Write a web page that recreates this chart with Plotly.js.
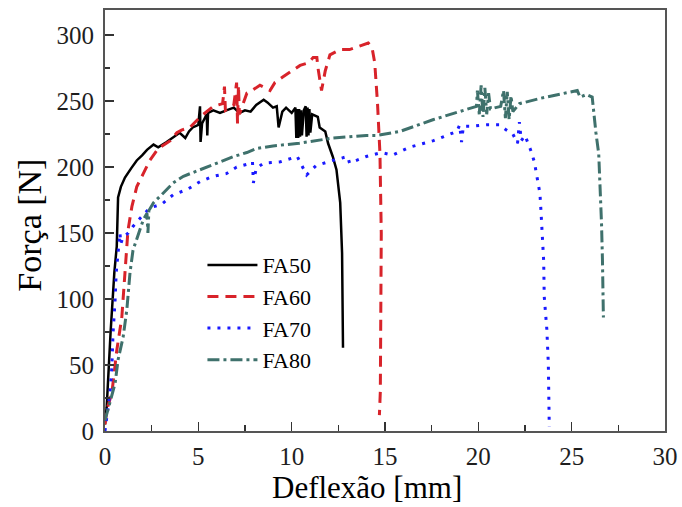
<!DOCTYPE html>
<html>
<head>
<meta charset="utf-8">
<script src="https://cdn.plot.ly/plotly-3.0.1.min.js"></script>
<style>html,body{margin:0;padding:0;background:#fff;}#chart{width:682px;height:507px;}</style>
</head>
<body>
<div id="chart"></div>
<script>
// FA50 (black, solid)
const fa50_x = [0, 0.09, 0.3, 0.5, 0.63, 0.7, 0.85, 1.07, 1.4, 1.7, 2.0, 2.25, 2.6, 2.85, 3.3, 3.7, 4.0, 4.3, 4.5, 4.7, 5.0, 5.09, 5.12, 5.2, 5.45, 5.48, 5.52, 5.8, 6.16, 6.5, 6.9, 7.2, 7.5, 7.8, 8.1, 8.5, 8.7, 9.0, 9.2, 9.3, 9.5, 9.7, 10.0, 10.2, 10.25, 10.3, 10.35, 10.4, 10.45, 10.5, 10.55, 10.65, 10.75, 10.8, 10.85, 10.9, 10.95, 11.0, 11.1, 11.4, 11.5, 11.8, 11.95, 12.2, 12.4, 12.6, 12.7, 12.75];
const fa50_y = [5, 18, 75, 120, 140, 177, 185, 192, 199, 205, 209, 213, 217, 215, 219, 223, 226, 222, 227, 230, 232, 246, 219, 233, 240, 224, 241, 243, 241, 243, 245, 241, 243, 242, 247, 251, 249, 245, 246, 230, 242, 245, 241, 245, 222, 244, 222, 244, 223, 243, 224, 243, 246, 223, 245, 224, 244, 226, 240, 238, 230, 227, 218, 208, 198, 173, 135, 63];

// FA60 (red, dashed)
const fa60_x = [0, 0.1, 0.37, 0.63, 0.9, 1.07, 1.23, 1.44, 1.7, 2.05, 2.4, 2.85, 3.5, 3.85, 4.1, 4.55, 5.1, 5.8, 6.3, 6.4, 6.45, 6.9, 7.05, 7.1, 7.15, 7.2, 7.6, 7.77, 8.3, 8.84, 9.1, 9.5, 10.45, 10.9, 11.15, 11.35, 11.4, 11.6, 11.8, 12.05, 12.6, 13.1, 13.75, 14.1, 14.3, 14.45, 14.6, 14.73, 14.8, 14.78, 14.75, 14.7];
const fa60_y = [5, 16, 29, 61, 86, 124, 152, 170, 185, 195, 205, 214, 220, 226, 228, 230, 238, 246, 248, 261, 243, 247, 264, 233, 262, 240, 256, 257, 262, 258, 264, 268, 277, 279, 283, 283, 276, 258, 273, 285, 289, 289, 292, 294, 291, 279, 248, 210, 150, 80, 30, 12];

// FA70 (blue, dotted)
const fa70_x = [0, 0.05, 0.27, 0.37, 0.43, 0.54, 0.6, 0.7, 0.8, 0.85, 0.97, 1.25, 1.5, 1.87, 2.4, 3.05, 3.65, 4.4, 5.1, 5.8, 6.5, 7.05, 7.6, 7.9, 7.95, 8.1, 8.5, 9.4, 10.3, 10.8, 11.3, 12.2, 13.0, 13.1, 14.0, 14.8, 15.4, 16.3, 17.6, 18.85, 19.0, 19.1, 19.2, 19.7, 20.45, 21.15, 21.5, 21.85, 22.1, 22.2, 22.3, 22.5, 22.8, 23.0, 23.15, 23.3, 23.35, 23.4, 23.45, 23.5, 23.53, 23.67, 23.75, 23.8, 23.8];
const fa70_y = [0, 5, 29, 49, 74, 99, 120, 135, 150, 142, 147, 150, 155, 161, 169, 172, 179, 183, 189, 193, 195, 200, 202, 204, 188, 199, 203, 204, 208, 194, 201, 205, 208, 203, 208, 211, 209, 215, 220, 227, 232, 219, 231, 231, 232, 232, 228, 225, 218, 234, 220, 224, 213, 204, 193, 180, 168, 155, 142, 129, 102, 77, 51, 13, 3];

// FA80 (teal, dash-dot)
const fa80_x = [0, 0.27, 0.54, 0.7, 0.97, 1.17, 1.34, 1.5, 1.7, 2.05, 2.25, 2.3, 2.35, 2.6, 3.1, 3.65, 4.2, 5.1, 6.0, 6.9, 7.6, 8.1, 9.0, 10.4, 12.2, 14.0, 14.6, 15.8, 17.6, 19.0, 19.9, 19.95, 20.05, 20.15, 20.25, 20.35, 20.45, 20.55, 20.65, 21.2, 21.35, 21.45, 21.55, 21.65, 21.75, 21.85, 22.2, 23.3, 24.7, 25.3, 25.45, 25.8, 26.1, 26.2, 26.3, 26.45, 26.55, 26.6, 26.65, 26.7, 26.7];
const fa80_y = [8, 21, 36, 54, 71, 92, 120, 137, 145, 160, 165, 150, 167, 173, 180, 188, 193, 198, 203, 208, 211, 214, 216, 218, 222, 224, 224, 227, 236, 242, 246, 258, 240, 262, 238, 260, 240, 256, 244, 246, 258, 237, 257, 236, 254, 242, 248, 252, 256, 258, 253, 255, 253, 238, 226, 210, 182, 157, 129, 104, 86];

const seriesNames = ['FA50', 'FA60', 'FA70', 'FA80'];
const xTickVals = [0, 5, 10, 15, 20, 25, 30];
const yTickVals = [0, 50, 100, 150, 200, 250, 300];

const font = 'Liberation Serif, Times New Roman, serif';

const traces = [
  {x: fa50_x, y: fa50_y, name: seriesNames[0], mode: 'lines', line: {color: '#000000', width: 2.5}},
  {x: fa60_x, y: fa60_y, name: seriesNames[1], mode: 'lines', line: {color: '#d8232a', width: 3, dash: '11px,7px'}},
  {x: fa70_x, y: fa70_y, name: seriesNames[2], mode: 'lines', line: {color: '#1a1aff', width: 3, dash: '3px,7px'}},
  {x: fa80_x, y: fa80_y, name: seriesNames[3], mode: 'lines', line: {color: '#3f716c', width: 3, dash: '12px,4px,3px,4px'}}
];

const axisCommon = {
  showgrid: false, zeroline: false, showline: true, mirror: true,
  linecolor: '#555555', linewidth: 2,
  ticks: 'inside', ticklen: 9, tickwidth: 1.5, tickcolor: '#333333',
  tickfont: {family: font, size: 25, color: '#1e1e1e'},
  ticklabelstandoff: 4
};

const layout = {
  width: 682, height: 507,
  margin: {l: 105, r: 17, t: 10, b: 76},
  paper_bgcolor: '#ffffff', plot_bgcolor: '#ffffff',
  showlegend: true,
  legend: {
    x: 0.174, y: 0.444, xanchor: 'left', yanchor: 'top',
    bgcolor: 'rgba(0,0,0,0)', borderwidth: 0,
    font: {family: font, size: 22, color: '#000000'},
    itemwidth: 50, tracegroupgap: 0
  },
  xaxis: Object.assign({}, axisCommon, {
    range: [0, 30], tickvals: xTickVals, ticklabelstandoff: 2,
    minor: {dtick: 2.5, tick0: 0, ticks: 'inside', ticklen: 6, tickwidth: 1.5, tickcolor: '#333333'}
  }),
  yaxis: Object.assign({}, axisCommon, {
    range: [0, 319], tickvals: yTickVals,
    minor: {dtick: 25, tick0: 0, ticks: 'inside', ticklen: 5, tickwidth: 1.5, tickcolor: '#333333'}
  }),
  annotations: [
    {text: 'Deflexão [mm]', xref: 'paper', yref: 'paper', x: 0.467, y: -0.134, xanchor: 'center', yanchor: 'middle', showarrow: false, borderpad: 0, font: {family: font, size: 31, color: '#000000'}},
    {text: 'Força [N]', xref: 'paper', yref: 'paper', x: -0.134, y: 0.49, xanchor: 'center', yanchor: 'middle', textangle: -90, showarrow: false, borderpad: 0, font: {family: font, size: 34, color: '#000000'}}
  ]
};

Plotly.newPlot('chart', traces, layout, {displayModeBar: false, staticPlot: true});
</script>
</body>
</html>
